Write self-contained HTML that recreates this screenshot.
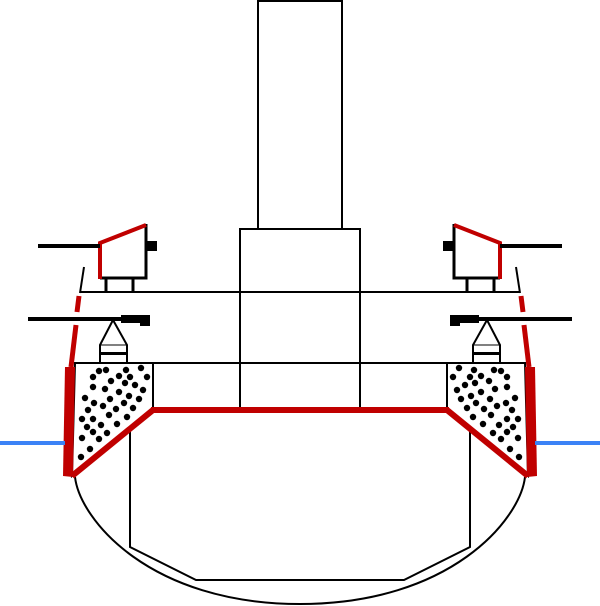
<!DOCTYPE html>
<html><head><style>html,body{margin:0;padding:0;background:#fff}svg{display:block}</style></head><body>
<svg width="600" height="606" viewBox="0 0 600 606" xmlns="http://www.w3.org/2000/svg">
<defs>
<g id="side">
  <!-- dotted region -->
  <path d="M75,363 L153,363 L153,410 L72,476 Z" fill="#fff" stroke="#000" stroke-width="2"/>
  <g fill="#000">
    <circle cx="99" cy="371" r="3.2"/><circle cx="106" cy="370" r="3.2"/><circle cx="126" cy="370" r="3.2"/><circle cx="141" cy="368" r="3.2"/>
    <circle cx="93" cy="377" r="3.2"/><circle cx="119" cy="376" r="3.2"/><circle cx="130" cy="377" r="3.2"/><circle cx="147" cy="377" r="3.2"/>
    <circle cx="111" cy="381" r="3.2"/><circle cx="125" cy="383" r="3.2"/><circle cx="93" cy="387" r="3.2"/><circle cx="105" cy="389" r="3.2"/>
    <circle cx="119" cy="392" r="3.2"/><circle cx="135" cy="385" r="3.2"/><circle cx="143" cy="390" r="3.2"/><circle cx="85" cy="398" r="3.2"/>
    <circle cx="110" cy="399" r="3.2"/><circle cx="129" cy="396" r="3.2"/><circle cx="139" cy="399" r="3.2"/><circle cx="94" cy="403" r="3.2"/>
    <circle cx="103" cy="406" r="3.2"/><circle cx="124" cy="403" r="3.2"/><circle cx="88" cy="410" r="3.2"/><circle cx="116" cy="409" r="3.2"/>
    <circle cx="133" cy="408" r="3.2"/><circle cx="82" cy="419" r="3.2"/><circle cx="93" cy="419" r="3.2"/><circle cx="109" cy="415" r="3.2"/>
    <circle cx="127" cy="417" r="3.2"/><circle cx="87" cy="427" r="3.2"/><circle cx="101" cy="425" r="3.2"/><circle cx="117" cy="424" r="3.2"/>
    <circle cx="93" cy="432" r="3.2"/><circle cx="107" cy="433" r="3.2"/><circle cx="82" cy="438" r="3.2"/><circle cx="99" cy="439" r="3.2"/>
    <circle cx="90" cy="449" r="3.2"/><circle cx="81" cy="457" r="3.2"/>
  </g>
  <!-- turret -->
  <path d="M100,278 L146,278 L146,224" fill="none" stroke="#000" stroke-width="3"/>
  <path d="M100,279 L100,243 L146,225" fill="none" stroke="#c00000" stroke-width="4"/>
  <line x1="38" y1="246" x2="100" y2="246" stroke="#000" stroke-width="4"/>
  <rect x="146" y="241" width="11" height="10" fill="#000"/>
  <line x1="106" y1="278" x2="106" y2="292" stroke="#000" stroke-width="3"/>
  <line x1="133" y1="278" x2="133" y2="292" stroke="#000" stroke-width="3"/>
  <!-- hull side -->
  <line x1="84" y1="267" x2="80" y2="293" stroke="#000" stroke-width="2"/>
  <line x1="79" y1="296" x2="77" y2="312" stroke="#c00000" stroke-width="5"/>
  <line x1="76" y1="325" x2="71" y2="367" stroke="#c00000" stroke-width="5"/>
  <path d="M65,367 L75,367 L73,477 L63,476 Z" fill="#c00000"/>
  <!-- lower gun -->
  <line x1="28" y1="319" x2="122" y2="319" stroke="#000" stroke-width="4"/>
  <rect x="121" y="315" width="29" height="8" fill="#000"/>
  <rect x="140" y="315" width="10" height="11" fill="#000"/>
  <path d="M100,354 L100,345 L113,320 L127,345 L127,354" fill="none" stroke="#000" stroke-width="2"/>
  <line x1="100" y1="345" x2="127" y2="345" stroke="#000" stroke-width="1"/>
  <rect x="100" y="352" width="27" height="3" fill="#000"/>
  <line x1="100" y1="354" x2="100" y2="363" stroke="#000" stroke-width="2"/>
  <line x1="127" y1="354" x2="127" y2="363" stroke="#000" stroke-width="2"/>
  <!-- armor deck slope -->
  <path d="M153,410 L72,476" fill="none" stroke="#c00000" stroke-width="6"/>
  <rect x="0" y="441" width="65" height="4" fill="#3b82f6"/>
</g>
</defs>
<!-- hull -->
<path d="M75,477 C80,520 150,604 300,604 C450,604 520,520 525,477" fill="none" stroke="#000" stroke-width="2"/>
<path d="M130,410 L130,547 L196,580 L404,580 L470,547 L470,410" fill="none" stroke="#000" stroke-width="2"/>
<!-- decks -->
<line x1="80" y1="292" x2="520" y2="292" stroke="#000" stroke-width="2"/>
<line x1="75" y1="363" x2="525" y2="363" stroke="#000" stroke-width="2"/>
<!-- funnel & superstructure -->
<rect x="258" y="1" width="84" height="228" fill="#fff" stroke="#000" stroke-width="2"/>
<line x1="240" y1="229" x2="240" y2="410" stroke="#000" stroke-width="2"/>
<line x1="360" y1="229" x2="360" y2="410" stroke="#000" stroke-width="2"/>
<line x1="239" y1="229" x2="361" y2="229" stroke="#000" stroke-width="2"/>
<use href="#side"/>
<use href="#side" transform="translate(600,0) scale(-1,1)"/>
<line x1="151" y1="410" x2="449" y2="410" stroke="#c00000" stroke-width="6"/>
</svg>
</body></html>
